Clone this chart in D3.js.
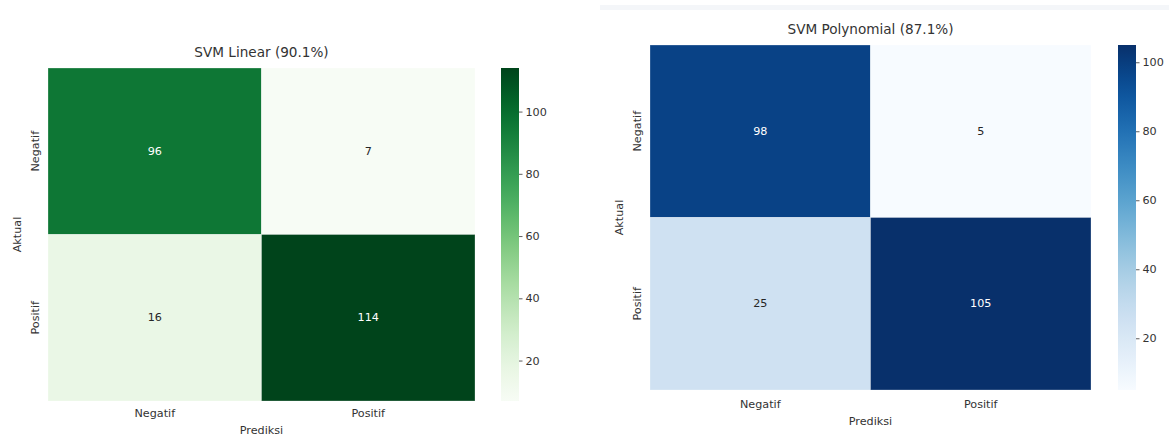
<!DOCTYPE html>
<html>
<head>
<meta charset="utf-8">
<script src="https://cdn.jsdelivr.net/npm/d3@7"></script>
<style>
  body { margin: 0; background: #fff; }
  text { font-family: "DejaVu Sans", sans-serif; fill: #333; }
</style>
</head>
<body>
<div id="chart"></div>
<script>
// data
var categories = ["Negatif", "Positif"];
var linearValues = [[96, 7], [16, 114]];
var polyValues = [[98, 5], [25, 105]];
var linearTitle = "SVM Linear (90.1%)";
var polyTitle = "SVM Polynomial (87.1%)";
var colorbarTicks = [20, 40, 60, 80, 100];
var xLabel = "Prediksi", yLabel = "Aktual";

var svg = d3.select("#chart")
  .append("svg")
    .attr("width", 1169)
    .attr("height", 437);

// faint strip at top of the right screenshot
svg.append("rect")
  .attr("x", 600).attr("y", 5)
  .attr("width", 569).attr("height", 5)
  .attr("fill", "#f4f6f9");

function heatmap(cfg) {
  var flat = d3.merge(cfg.values);
  var color = d3.scaleSequential(cfg.interp)
      .domain(d3.extent(flat));

  var x = d3.scaleBand().domain(categories).range([cfg.left, cfg.right]);
  var y = d3.scaleBand().domain(categories).range([cfg.top, cfg.bottom]);

  var cells = [];
  cfg.values.forEach(function(row, i) {
    row.forEach(function(v, j) {
      cells.push({actual: categories[i], pred: categories[j], value: v});
    });
  });

  var g = svg.append("g");

  g.selectAll("rect.cell")
    .data(cells)
    .enter()
    .append("rect")
      .attr("class", "cell")
      .attr("x", function(d) { return x(d.pred); })
      .attr("y", function(d) { return y(d.actual); })
      .attr("width", x.bandwidth())
      .attr("height", y.bandwidth())
      .attr("fill", function(d) { return color(d.value); })
      .attr("stroke", "#ffffff")
      .attr("stroke-opacity", 0.35)
      .attr("stroke-width", 0.8);

  // annotation text, white on dark cells like seaborn
  g.selectAll("text.annot")
    .data(cells)
    .enter()
    .append("text")
      .attr("class", "annot")
      .attr("x", function(d) { return x(d.pred) + x.bandwidth() / 2; })
      .attr("y", function(d) { return y(d.actual) + y.bandwidth() / 2; })
      .attr("text-anchor", "middle")
      .attr("dominant-baseline", "central")
      .style("font-size", "11.2px")
      .style("fill", function(d) {
        var c = d3.rgb(color(d.value));
        var lum = 0.2126 * c.r + 0.7152 * c.g + 0.0722 * c.b;
        return lum > 105 ? "#262626" : "#ffffff";
      })
      .text(function(d) { return d.value; });

  // x tick labels
  g.selectAll("text.xtick")
    .data(categories)
    .enter()
    .append("text")
      .attr("x", function(d) { return x(d) + x.bandwidth() / 2; })
      .attr("y", cfg.bottom + cfg.tickOff)
      .attr("text-anchor", "middle")
      .attr("dominant-baseline", "central")
      .style("font-size", "11.2px")
      .text(function(d) { return d; });

  // y tick labels (rotated)
  g.selectAll("text.ytick")
    .data(categories)
    .enter()
    .append("text")
      .attr("transform", function(d) {
        return "translate(" + (cfg.left - 13) + "," + (y(d) + y.bandwidth() / 2) + ") rotate(-90)";
      })
      .attr("text-anchor", "middle")
      .attr("dominant-baseline", "central")
      .style("font-size", "11.2px")
      .text(function(d) { return d; });

  // axis labels
  g.append("text")
    .attr("x", (cfg.left + cfg.right) / 2)
    .attr("y", cfg.bottom + cfg.labelOff)
    .attr("text-anchor", "middle")
    .attr("dominant-baseline", "central")
    .style("font-size", "11.2px")
    .text(xLabel);

  g.append("text")
    .attr("transform", "translate(" + (cfg.left - 31) + "," + ((cfg.top + cfg.bottom) / 2) + ") rotate(-90)")
    .attr("text-anchor", "middle")
    .attr("dominant-baseline", "central")
    .style("font-size", "11.2px")
    .text(yLabel);

  // title
  g.append("text")
    .attr("x", (cfg.left + cfg.right) / 2)
    .attr("y", cfg.top - 11)
    .attr("text-anchor", "middle")
    .style("font-size", "13.6px")
    .text(cfg.title);

  // colorbar
  var cb = d3.scaleLinear()
      .domain(color.domain())
      .range([cfg.bottom, cfg.top]);

  var gradId = "grad" + cfg.id;
  var grad = svg.append("defs").append("linearGradient")
      .attr("id", gradId)
      .attr("x1", 0).attr("y1", 1).attr("x2", 0).attr("y2", 0);
  grad.selectAll("stop")
    .data(d3.range(0, 1.0001, 0.05))
    .enter()
    .append("stop")
      .attr("offset", function(t) { return t; })
      .attr("stop-color", function(t) { return cfg.interp(t); });

  g.append("rect")
    .attr("x", cfg.cbX)
    .attr("y", cfg.top)
    .attr("width", 18)
    .attr("height", cfg.bottom - cfg.top)
    .attr("fill", "url(#" + gradId + ")");

  var axis = g.append("g")
    .attr("transform", "translate(" + (cfg.cbX + 18) + ",0)")
    .call(d3.axisRight(cb).tickValues(colorbarTicks).tickSize(3.5).tickPadding(3));
  axis.select(".domain").remove();
  axis.selectAll("line").attr("stroke", "#333").attr("stroke-width", 0.8);
  axis.selectAll("text")
    .style("font-size", "11.2px")
    .style("font-family", "DejaVu Sans, sans-serif")
    .attr("fill", "#333");
}

heatmap({
  id: 1, values: linearValues, interp: d3.interpolateGreens, title: linearTitle,
  left: 48, right: 475, top: 68, bottom: 401, cbX: 501, tickOff: 12, labelOff: 29
});

heatmap({
  id: 2, values: polyValues, interp: d3.interpolateBlues, title: polyTitle,
  left: 650, right: 1091, top: 45, bottom: 390, cbX: 1118, tickOff: 14, labelOff: 31
});
</script>
</body>
</html>
